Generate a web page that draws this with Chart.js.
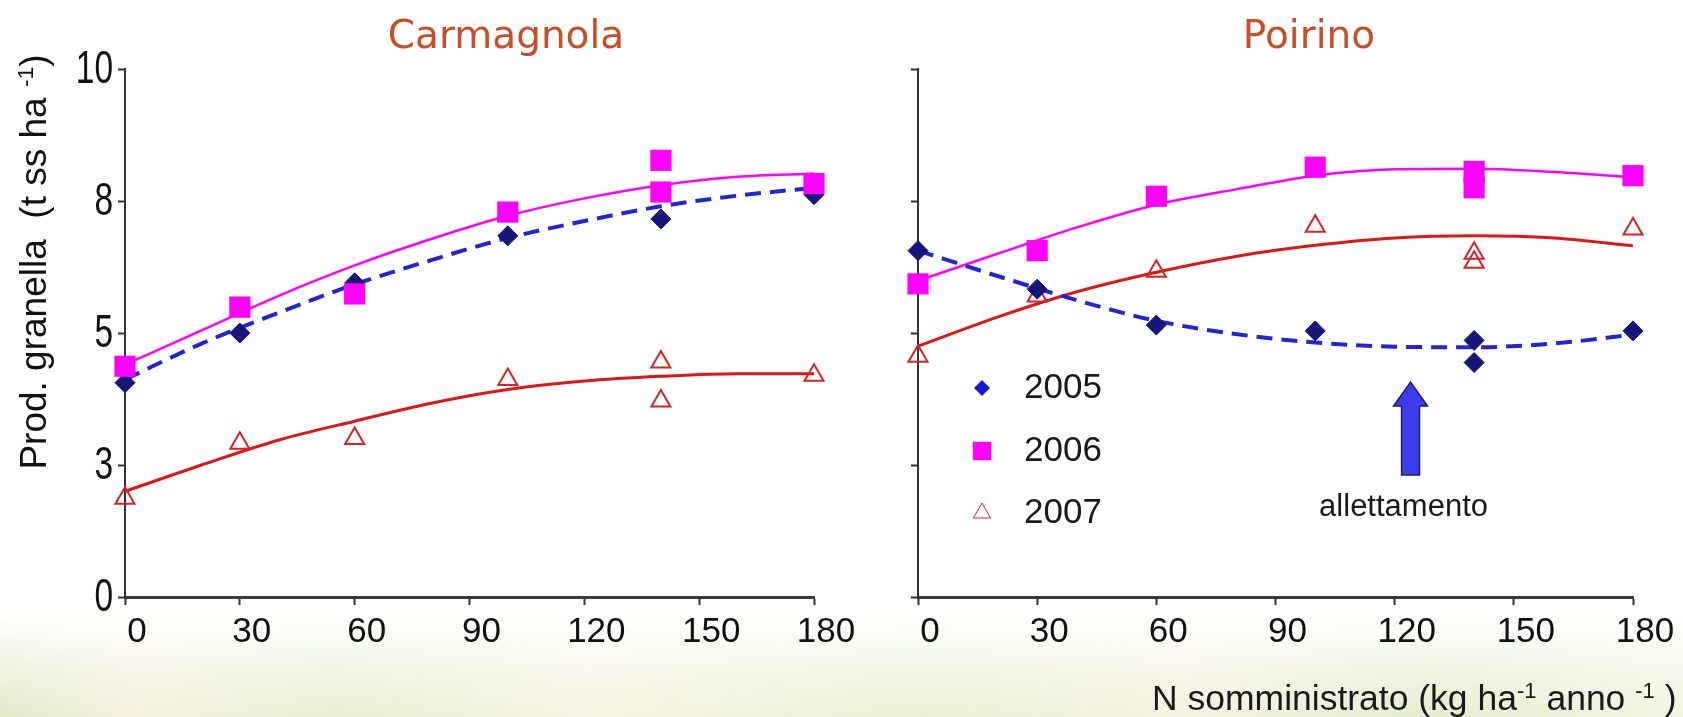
<!DOCTYPE html>
<html>
<head>
<meta charset="utf-8">
<script src="https://cdn.jsdelivr.net/npm/chart.js@4.4.0/dist/chart.umd.min.js"></script>
<style>
  body {
    margin: 0;
    width: 1683px;
    height: 717px;
    overflow: hidden;
    background:
      linear-gradient(to bottom, #fff 0, #fff 615px, rgba(255,255,255,0.55) 675px, rgba(255,255,255,0.3) 717px),
      linear-gradient(to right, #d6e3b4 0, #f1ead0 8%, #dde9bf 20%, #f4efd6 35%, #e0ebc2 55%, #f2ecd2 70%, #d9e7bb 85%, #eef0d4 100%);
  }
  .panel { position: absolute; top: 0; height: 717px; }
</style>
</head>
<body>
<div class="panel" style="left:0;width:900px"><canvas id="carmagnola"></canvas></div>
<div class="panel" style="left:840px;width:843px"><canvas id="poirino"></canvas></div>
<script>
// N dose (kg/ha) of each plot, 140 was sampled twice
const doses = [0, 30, 60, 100, 140, 140, 180];
const dosesCarm2005 = [0, 30, 60, 100, 140, 180];
const fitDoses = [0, 20, 40, 60, 80, 100, 120, 140, 160, 180];
const years = ["2005", "2006", "2007"];

// Carmagnola, t ss/ha
const carm2005 = [4.06, 5.0, 5.95, 6.84, 7.16, 7.62];
const carm2006 = [4.37, 5.49, 5.74, 7.29, 8.27, 7.67, 7.83];
const carm2007 = [1.87, 2.91, 3.0, 4.12, 4.45, 3.71, 4.2];
const carmFit2005 = [4.12, 4.8, 5.38, 5.92, 6.38, 6.8, 7.12, 7.4, 7.6, 7.75];
const carmFit2006 = [4.4, 5.05, 5.7, 6.28, 6.78, 7.22, 7.55, 7.8, 7.96, 8.02];
const carmFit2007 = [2.0, 2.5, 2.97, 3.33, 3.67, 3.93, 4.09, 4.18, 4.23, 4.23];

// Poirino, t ss/ha
const poir2005 = [6.56, 5.83, 5.15, 5.04, 4.86, 4.44, 5.04];
const poir2006 = [5.93, 6.56, 7.59, 8.14, 8.06, 7.75, 7.98];
const poir2007 = [4.56, 5.7, 6.17, 7.02, 6.51, 6.34, 6.97];
const poirFit2005 = [6.56, 6.08, 5.62, 5.23, 4.98, 4.82, 4.74, 4.73, 4.8, 4.97];
const poirFit2006 = [5.99, 6.5, 7.0, 7.43, 7.72, 7.98, 8.1, 8.11, 8.05, 7.95];
const poirFit2007 = [4.75, 5.3, 5.78, 6.15, 6.45, 6.66, 6.8, 6.84, 6.8, 6.65];

const xMax = 180;
const xStep = 30;
const yMax = 10;
const yStep = 2.5;

const navy = "#15157a";
const blue = "#2424d4";
const magenta = "#ff00ff";
const red = "#e01515";
const titleColor = "#c84e28";
const SANS = '"Liberation Sans", Arial, sans-serif';

const pts = (xs, ys) => ys.map((y, i) => ({ x: xs[i], y: y }));

function makeDatasets(x05, y05, y06, y07, f05, f06, f07) {
  return [
    { label: years[1], data: pts(doses, y06), order: 0, pointStyle: "rect", pointRadius: 15,
      backgroundColor: magenta, borderColor: magenta, borderWidth: 0, clip: false },
    { label: years[0], data: pts(x05, y05), order: 1, pointStyle: "rectRot", pointRadius: 10,
      backgroundColor: navy, borderColor: navy, borderWidth: 1, clip: false },
    { label: years[2], data: pts(doses, y07), order: 2, pointStyle: "triangle", pointRadius: 11,
      backgroundColor: "rgba(255,255,255,0)", borderColor: "#d42424", borderWidth: 2, clip: false },
    { label: "fit " + years[0], data: pts(fitDoses, f05), order: 3, showLine: true, pointRadius: 0,
      borderColor: blue, borderWidth: 4, borderDash: [16, 9], cubicInterpolationMode: "monotone", clip: false },
    { label: "fit " + years[1], data: pts(fitDoses, f06), order: 4, showLine: true, pointRadius: 0,
      borderColor: magenta, borderWidth: 2.5, cubicInterpolationMode: "monotone", clip: false },
    { label: "fit " + years[2], data: pts(fitDoses, f07), order: 5, showLine: true, pointRadius: 0,
      borderColor: red, borderWidth: 3, cubicInterpolationMode: "monotone", clip: false }
  ];
}

function makeScales(yWidth) {
  return {
    x: {
      type: "linear", min: 0, max: xMax,
      afterFit: s => { s.height = 60; },
      border: { color: "#3a3a3a", width: 3 },
      grid: { drawOnChartArea: false, tickLength: 8, tickColor: "#333", tickWidth: 2 },
      ticks: { stepSize: xStep, padding: 6, labelOffset: 12, color: "#111",
        font: { family: SANS, size: 35 } }
    },
    y: {
      min: 0, max: yMax,
      afterFit: s => { s.width = yWidth; },
      border: { color: "#333", width: 2 },
      grid: { drawOnChartArea: false, tickLength: 7, tickColor: "#333", tickWidth: 2 },
      // labels drawn by yLabels below (they are stretched in the original)
      ticks: { stepSize: yStep, display: false }
    }
  };
}

// y tick numbers, rounded to whole tonnes (2.5 shows as 3), tall and narrow
const yLabels = {
  id: "yLabels",
  afterDraw(chart) {
    const ctx = chart.ctx;
    const ys = chart.scales.y;
    ctx.save();
    ctx.fillStyle = "#111";
    ctx.font = "38px " + SANS;
    ctx.textAlign = "right";
    ctx.textBaseline = "middle";
    for (const t of ys.ticks) {
      ctx.save();
      ctx.translate(chart.chartArea.left - 12, ys.getPixelForValue(t.value) + 1);
      ctx.scale(0.88, 1.22);
      ctx.fillText(String(Math.round(t.value)), 0, 0);
      ctx.restore();
    }
    ctx.restore();
  }
};

// text with superscript parts: [["text", false], ["-1", true]]
function runsWidth(ctx, runs, size) {
  let w = 0;
  for (const r of runs) {
    ctx.font = (r[1] ? size * 0.62 : size) + "px " + SANS;
    w += ctx.measureText(r[0]).width;
  }
  return w;
}
function drawRuns(ctx, runs, x, y, size) {
  for (const r of runs) {
    const s = r[1] ? size * 0.62 : size;
    ctx.font = s + "px " + SANS;
    ctx.fillText(r[0], x, r[1] ? y - size * 0.34 : y);
    x += ctx.measureText(r[0]).width;
  }
}

function drawTitle(ctx, text, x) {
  ctx.font = '39px "DejaVu Sans", sans-serif';
  ctx.fillStyle = titleColor;
  ctx.textAlign = "center";
  ctx.textBaseline = "middle";
  ctx.fillText(text, x, 38);
}

const carmDecor = {
  id: "carmDecor",
  afterDraw(chart) {
    const ctx = chart.ctx;
    ctx.save();
    drawTitle(ctx, "Carmagnola", 506);
    // y axis title, rotated
    const runs = [["Prod. granella  (t ss ha ", false], ["-1", true], [")", false]];
    const size = 37;
    const w = runsWidth(ctx, runs, size);
    ctx.translate(46, 262);
    ctx.rotate(-Math.PI / 2);
    ctx.fillStyle = "#111";
    ctx.textAlign = "left";
    ctx.textBaseline = "alphabetic";
    drawRuns(ctx, runs, -w / 2, 0, size);
    ctx.restore();
  }
};

const poirDecor = {
  id: "poirDecor",
  afterDraw(chart) {
    const ctx = chart.ctx;
    const area = chart.chartArea;
    const xs = chart.scales.x, ys = chart.scales.y;
    const ds = chart.data.datasets;
    ctx.save();
    drawTitle(ctx, "Poirino", 469);

    // legend
    const rows = [
      { ds: ds[1], color: "#1a1ad0", radius: 8, y: 388 },
      { ds: ds[0], color: magenta, radius: 13, y: 451 },
      { ds: ds[2], color: "#d42424", radius: 10, y: 513 }
    ];
    for (const r of rows) {
      const hollow = r.ds.pointStyle === "triangle";
      ctx.fillStyle = hollow ? "rgba(255,255,255,0)" : r.color;
      ctx.strokeStyle = r.color;
      Chart.helpers.drawPoint(ctx, { pointStyle: r.ds.pointStyle, radius: r.radius,
        borderWidth: hollow ? 2 : 0, rotation: 0 }, area.left + 64, r.y);
      ctx.fillStyle = "#1a1a1a";
      ctx.font = "35px " + SANS;
      ctx.textAlign = "left";
      ctx.textBaseline = "middle";
      ctx.fillText(r.ds.label, area.left + 106, r.y);
    }

    // lodging arrow
    const ax = xs.getPixelForValue(124);
    const tip = ys.getPixelForValue(4.07);
    const base = ys.getPixelForValue(2.31);
    ctx.beginPath();
    ctx.moveTo(ax, tip);
    ctx.lineTo(ax + 17, tip + 24);
    ctx.lineTo(ax + 9, tip + 24);
    ctx.lineTo(ax + 9, base);
    ctx.lineTo(ax - 9, base);
    ctx.lineTo(ax - 9, tip + 24);
    ctx.lineTo(ax - 17, tip + 24);
    ctx.closePath();
    ctx.fillStyle = "#3c3cec";
    ctx.fill();
    ctx.strokeStyle = "#1c1c78";
    ctx.lineWidth = 1.5;
    ctx.stroke();
    ctx.fillStyle = "#1a1a1a";
    ctx.font = "31px " + SANS;
    ctx.textAlign = "center";
    ctx.textBaseline = "middle";
    ctx.fillText("allettamento", ax - 7, ys.getPixelForValue(1.69));

    // x axis title
    const runs = [["N somministrato (kg ha", false], ["-1", true], [" anno ", false], ["-1", true], [" )", false]];
    ctx.textAlign = "left";
    ctx.textBaseline = "alphabetic";
    drawRuns(ctx, runs, 312, 710, 35.5);
    ctx.restore();
  }
};

function makeChart(id, datasets, yWidth, padRight, plugins) {
  return new Chart(document.getElementById(id), {
    type: "scatter",
    data: { datasets: datasets },
    options: {
      responsive: true,
      maintainAspectRatio: false,
      animation: false,
      layout: { padding: { left: 0, right: padRight, top: 69, bottom: 60 } },
      plugins: { legend: { display: false }, tooltip: { enabled: false } },
      scales: makeScales(yWidth)
    },
    plugins: plugins
  });
}

makeChart("carmagnola",
  makeDatasets(dosesCarm2005, carm2005, carm2006, carm2007, carmFit2005, carmFit2006, carmFit2007),
  125, 86, [carmDecor, yLabels]);
makeChart("poirino",
  makeDatasets(doses, poir2005, poir2006, poir2007, poirFit2005, poirFit2006, poirFit2007),
  78, 50, [poirDecor]);
</script>
</body>
</html>
